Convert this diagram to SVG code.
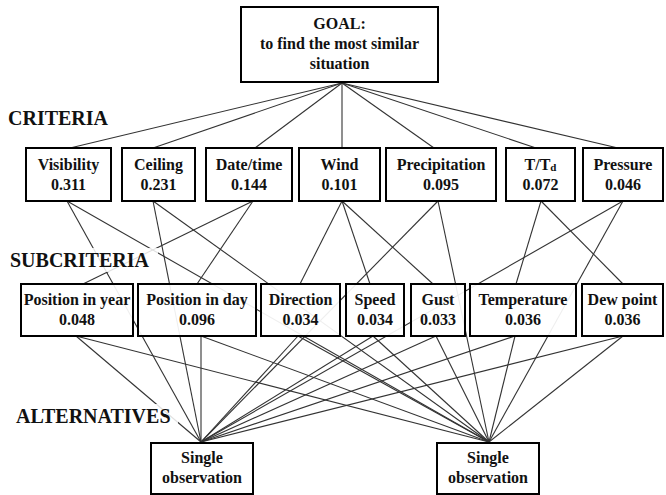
<svg xmlns="http://www.w3.org/2000/svg" width="666" height="495" viewBox="0 0 666 495">
<style>
.bg{fill:#fff}
.box{fill:#fff;fill-opacity:0.92;stroke:#000;stroke-width:2}
.t{font-family:"Liberation Serif","Times New Roman",serif;font-weight:bold;font-size:16px;fill:#111;text-anchor:middle}
.lvl{font-family:"Liberation Serif","Times New Roman",serif;font-weight:bold;font-size:20px;fill:#111}
.lbg{fill:#fff;fill-opacity:0.85}
#connectors line{stroke:#333;stroke-width:1.1}
</style>
<rect class="bg" x="0" y="0" width="666" height="495"/>
<g id="connectors">
<line x1="342" y1="83" x2="70" y2="148"/>
<line x1="342" y1="83" x2="153" y2="148"/>
<line x1="342" y1="83" x2="255" y2="148"/>
<line x1="342" y1="83" x2="342" y2="148"/>
<line x1="342" y1="83" x2="434" y2="148"/>
<line x1="342" y1="83" x2="536" y2="148"/>
<line x1="342" y1="83" x2="618" y2="148"/>
<line x1="67" y1="201" x2="201" y2="442"/>
<line x1="67" y1="201" x2="489" y2="442"/>
<line x1="153" y1="201" x2="201" y2="442"/>
<line x1="153" y1="201" x2="489" y2="442"/>
<line x1="253" y1="201" x2="83" y2="284"/>
<line x1="253" y1="201" x2="197" y2="284"/>
<line x1="342" y1="201" x2="300" y2="284"/>
<line x1="342" y1="201" x2="370" y2="284"/>
<line x1="342" y1="201" x2="433" y2="284"/>
<line x1="438" y1="201" x2="201" y2="442"/>
<line x1="438" y1="201" x2="489" y2="442"/>
<line x1="541" y1="201" x2="516" y2="284"/>
<line x1="541" y1="201" x2="623" y2="284"/>
<line x1="623" y1="201" x2="201" y2="442"/>
<line x1="623" y1="201" x2="489" y2="442"/>
<line x1="76" y1="336" x2="201" y2="442"/>
<line x1="76" y1="336" x2="489" y2="442"/>
<line x1="201" y1="336" x2="201" y2="442"/>
<line x1="201" y1="336" x2="489" y2="442"/>
<line x1="298" y1="336" x2="201" y2="442"/>
<line x1="298" y1="336" x2="489" y2="442"/>
<line x1="373" y1="336" x2="201" y2="442"/>
<line x1="373" y1="336" x2="489" y2="442"/>
<line x1="436" y1="336" x2="201" y2="442"/>
<line x1="436" y1="336" x2="489" y2="442"/>
<line x1="515" y1="336" x2="201" y2="442"/>
<line x1="515" y1="336" x2="489" y2="442"/>
<line x1="623" y1="336" x2="201" y2="442"/>
<line x1="623" y1="336" x2="489" y2="442"/>
</g>
<g id="labels">
<text class="lvl" x="8" y="125">CRITERIA</text>
<rect class="lbg" x="6" y="248" width="152" height="24"/>
<text class="lvl" x="10" y="267">SUBCRITERIA</text>
<rect class="lbg" x="12" y="404" width="166" height="24"/>
<text class="lvl" x="16" y="423">ALTERNATIVES</text>
</g>
<g id="goal">
<rect class="box" x="241" y="7" width="197" height="75"/>
<text class="t" x="339.5" y="29">GOAL:</text>
<text class="t" x="339.5" y="49">to find the most similar</text>
<text class="t" x="339.5" y="69">situation</text>
</g>
<g id="visibility">
<rect class="box" x="26" y="148" width="85" height="53"/>
<text class="t" x="68.5" y="170">Visibility</text>
<text class="t" x="68.5" y="190">0.311</text>
</g>
<g id="ceiling">
<rect class="box" x="122" y="148" width="73" height="53"/>
<text class="t" x="158.5" y="170">Ceiling</text>
<text class="t" x="158.5" y="190">0.231</text>
</g>
<g id="datetime">
<rect class="box" x="206" y="148" width="86" height="53"/>
<text class="t" x="249" y="170">Date/time</text>
<text class="t" x="249" y="190">0.144</text>
</g>
<g id="wind">
<rect class="box" x="299" y="148" width="81" height="53"/>
<text class="t" x="339.5" y="170">Wind</text>
<text class="t" x="339.5" y="190">0.101</text>
</g>
<g id="precipitation">
<rect class="box" x="386" y="148" width="110" height="53"/>
<text class="t" x="441" y="170">Precipitation</text>
<text class="t" x="441" y="190">0.095</text>
</g>
<g id="ttd">
<rect class="box" x="506" y="148" width="69" height="53"/>
<text class="t" x="540.5" y="170">T/T<tspan font-size="11" dy="1">d</tspan></text>
<text class="t" x="540.5" y="190">0.072</text>
</g>
<g id="pressure">
<rect class="box" x="583" y="148" width="80" height="53"/>
<text class="t" x="623" y="170">Pressure</text>
<text class="t" x="623" y="190">0.046</text>
</g>
<g id="pos-year">
<rect class="box" x="21" y="284" width="112" height="52"/>
<text class="t" x="77" y="305">Position in year</text>
<text class="t" x="77" y="325">0.048</text>
</g>
<g id="pos-day">
<rect class="box" x="138" y="284" width="118" height="52"/>
<text class="t" x="197" y="305">Position in day</text>
<text class="t" x="197" y="325">0.096</text>
</g>
<g id="direction">
<rect class="box" x="261" y="284" width="79" height="52"/>
<text class="t" x="300.5" y="305">Direction</text>
<text class="t" x="300.5" y="325">0.034</text>
</g>
<g id="speed">
<rect class="box" x="346" y="284" width="58" height="52"/>
<text class="t" x="375" y="305">Speed</text>
<text class="t" x="375" y="325">0.034</text>
</g>
<g id="gust">
<rect class="box" x="411" y="284" width="54" height="52"/>
<text class="t" x="438" y="305">Gust</text>
<text class="t" x="438" y="325">0.033</text>
</g>
<g id="temperature">
<rect class="box" x="470" y="284" width="106" height="52"/>
<text class="t" x="523" y="305">Temperature</text>
<text class="t" x="523" y="325">0.036</text>
</g>
<g id="dewpoint">
<rect class="box" x="582" y="284" width="81" height="52"/>
<text class="t" x="622.5" y="305">Dew point</text>
<text class="t" x="622.5" y="325">0.036</text>
</g>
<g id="alt1">
<rect class="box" x="151" y="443" width="102" height="51"/>
<text class="t" x="202" y="463">Single</text>
<text class="t" x="202" y="483">observation</text>
</g>
<g id="alt2">
<rect class="box" x="437" y="443" width="102" height="51"/>
<text class="t" x="488" y="463">Single</text>
<text class="t" x="488" y="483">observation</text>
</g>
</svg>
